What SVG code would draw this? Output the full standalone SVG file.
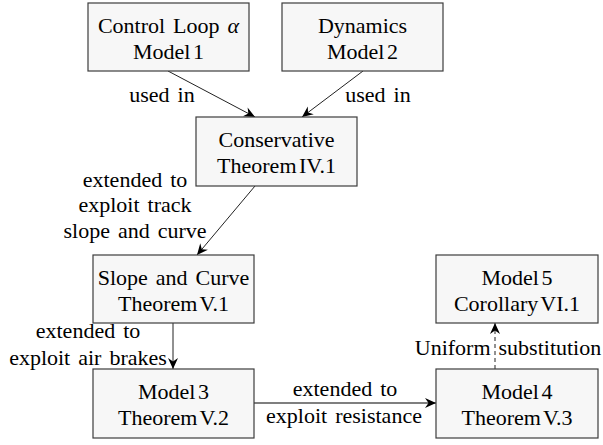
<svg xmlns="http://www.w3.org/2000/svg" width="603" height="445" viewBox="0 0 603 445">
<style>
.box{fill:#f7f7f7;stroke:#3c3c3c;stroke-width:1.2}
text{font-family:"Liberation Serif","Times New Roman",serif;font-size:22px;fill:#000;text-anchor:middle;word-spacing:2.5px}
.t{word-spacing:-3px}
.edge{fill:none;stroke:#222;stroke-width:1}
.dash{stroke-dasharray:4,3}
</style>
<defs>
<marker id="ah" markerUnits="userSpaceOnUse" markerWidth="14" markerHeight="12" viewBox="-12 -6 14 12" refX="0" refY="0" orient="auto">
<path d="M0,0 L-11,-5 L-7.5,0 L-11,5 Z" fill="#000"/>
</marker>
</defs>
<g id="connectors">
<line class="edge" x1="168" y1="71" x2="255" y2="117" marker-end="url(#ah)"/>
<line class="edge" x1="363" y1="71" x2="302" y2="117" marker-end="url(#ah)"/>
<line class="edge" x1="255" y1="186" x2="197" y2="255" marker-end="url(#ah)"/>
<line class="edge" x1="173" y1="323" x2="173" y2="369" marker-end="url(#ah)"/>
<line class="edge" x1="254" y1="403" x2="436" y2="403" style="stroke:#555;stroke-width:1.3" marker-end="url(#ah)"/>
<line class="edge dash" x1="495" y1="369" x2="495" y2="323" marker-end="url(#ah)"/>
<text x="162" y="102">used in</text>
<text x="378" y="102">used in</text>
<text x="135" y="187">extended to</text>
<text x="135" y="212">exploit track</text>
<text x="135" y="238">slope and curve</text>
<text x="88" y="338">extended to</text>
<text x="88" y="365">exploit air brakes</text>
<text x="345" y="396">extended to</text>
<text x="344" y="423">exploit resistance</text>
<text x="508" y="355">Uniform substitution</text>
</g>
<g id="n1"><rect class="box" x="88" y="3" width="161" height="68"/><text x="168.5" y="33">Control Loop <tspan font-style="italic">α</tspan></text><text class="t" x="168.5" y="59">Model 1</text></g>
<g id="n2"><rect class="box" x="282" y="3" width="161" height="68"/><text x="362.5" y="33">Dynamics</text><text class="t" x="362.5" y="59">Model 2</text></g>
<g id="n3"><rect class="box" x="196" y="117" width="161" height="69"/><text x="276.5" y="147">Conservative</text><text class="t" x="276.5" y="173">Theorem IV.1</text></g>
<g id="n4"><rect class="box" x="93" y="255" width="161" height="68"/><text x="173.5" y="285">Slope and Curve</text><text class="t" x="173.5" y="311">Theorem V.1</text></g>
<g id="n5"><rect class="box" x="93" y="369" width="161" height="69"/><text class="t" x="173.5" y="399">Model 3</text><text class="t" x="173.5" y="425">Theorem V.2</text></g>
<g id="n6"><rect class="box" x="436" y="369" width="162" height="69"/><text class="t" x="517" y="399">Model 4</text><text class="t" x="517" y="425">Theorem V.3</text></g>
<g id="n7"><rect class="box" x="436" y="255" width="162" height="68"/><text class="t" x="517" y="285">Model 5</text><text class="t" x="517" y="311">Corollary VI.1</text></g>
</svg>
